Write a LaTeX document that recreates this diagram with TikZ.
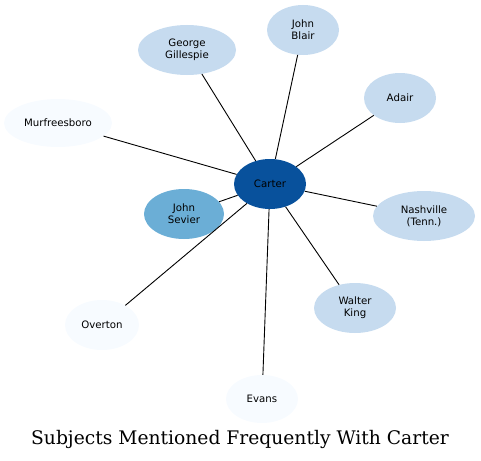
\documentclass[tikz,border=0pt]{standalone}
\usepackage{fontspec}
\newfontfamily\nodefont{DejaVu Sans}
\newfontfamily\titlefont{DejaVu Serif}
\usetikzlibrary{shapes.geometric}
\definecolor{cdark}{HTML}{08519C}
\definecolor{cmid}{HTML}{6BAED6}
\definecolor{clight}{HTML}{C6DBEF}
\definecolor{cpale}{HTML}{F7FBFF}
\begin{document}
\begin{tikzpicture}[x=1pt,y=1pt,
  subj/.style={ellipse,inner sep=0pt,align=center,font=\nodefont\fontsize{10.2}{11.8}\selectfont,text=black},
  link/.style={draw=black,line width=0.9pt}]
\useasboundingbox (0,0) rectangle (481,-460);
\node[subj,fill=cdark,minimum width=72pt,minimum height=50pt] (carter) at (270,-184) {Carter};
\node[subj,fill=clight,minimum width=98pt,minimum height=50pt] (gillespie) at (187,-50) {George\\Gillespie};
\node[subj,fill=clight,minimum width=72pt,minimum height=50pt] (blair) at (303,-30) {John\\Blair};
\node[subj,fill=clight,minimum width=72pt,minimum height=50pt] (adair) at (400,-98) {Adair};
\node[subj,fill=cpale,minimum width=108pt,minimum height=48pt] (murf) at (58,-123) {Murfreesboro};
\node[subj,fill=cmid,minimum width=80pt,minimum height=50pt] (sevier) at (184,-214) {John\\Sevier};
\node[subj,fill=clight,minimum width=102pt,minimum height=50pt] (nash) at (424,-216) {Nashville\\(Tenn.)};
\node[subj,fill=clight,minimum width=82pt,minimum height=50pt] (king) at (355,-308) {Walter\\King};
\node[subj,fill=cpale,minimum width=74pt,minimum height=50pt] (overton) at (102,-325) {Overton};
\node[subj,fill=cpale,minimum width=72pt,minimum height=48pt] (evans) at (262,-399) {Evans};
\node[font=\titlefont\fontsize{18.7}{22}\selectfont] (title) at (240,-439) {Subjects Mentioned Frequently With Carter};
\foreach \t in {gillespie,blair,adair,murf,sevier,nash,king,overton,evans}
  \draw[link] (carter) -- (\t);
\end{tikzpicture}
\end{document}
